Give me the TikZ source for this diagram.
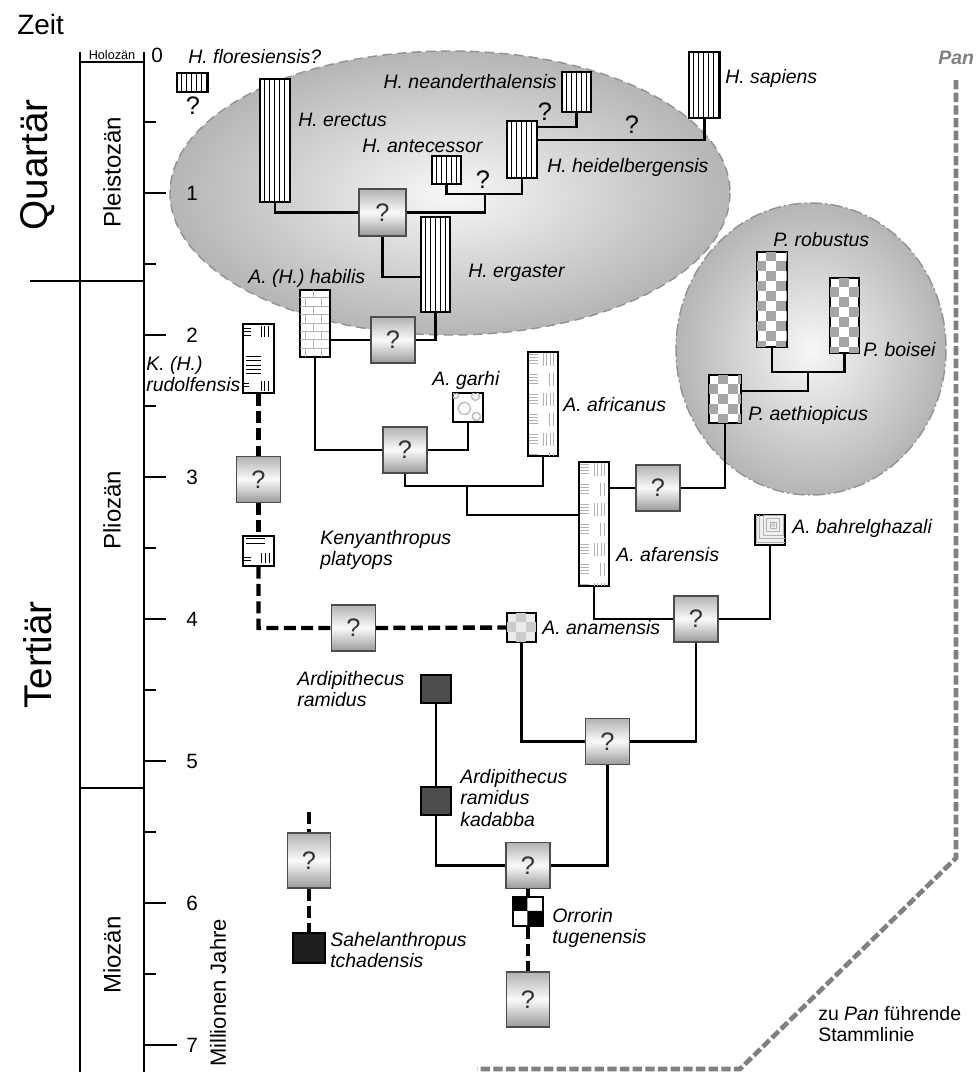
\documentclass[tikz,border=0pt]{standalone}
\usepackage{fontspec}
\setmainfont{Liberation Sans}
\newcommand\labsize{\fontsize{14.6}{16.1}\selectfont}
\newcommand\qsize{\fontsize{19}{20}\selectfont}

% fill a species box with a pattern, drawn in pixel units from its top left corner
\newcommand\boxpattern[2]{%
  \begin{scope}
    \clip (#1.north west) rectangle (#1.south east);
    \begin{scope}[shift={(#1.north west)}] #2 \end{scope}
  \end{scope}
  \draw[line width=0.9pt] (#1.north west) rectangle (#1.south east);}
\newcommand\vstripes[1]{\boxpattern{#1}{%
  \foreach \i in {5,10,...,35} \draw[line width=0.5pt] (\i,-2) -- (\i,130);}}
\newcommand\checker[2]{\boxpattern{#1}{%
  \foreach \i in {0,...,3} \foreach \j in {0,...,9} {
    \pgfmathtruncatemacro\cel{mod(\i+\j,2)}
    \ifnum\cel=1 \fill[#2] (\i*10,\j*10) rectangle ++(10,10); \fi}}}
\newcommand\bricks[1]{\boxpattern{#1}{%
  \begin{scope}[gray!60,line width=0.7pt]
    \foreach \j in {1,...,7} \draw (0,\j*8.4) -- (30,\j*8.4);
    \foreach \j in {0,2,4,6} \draw (14,\j*8.4) -- (14,\j*8.4+8.4);
    \foreach \j in {1,3,5,7} {\draw (6,\j*8.4) -- (6,\j*8.4+8.4);
                              \draw (22,\j*8.4) -- (22,\j*8.4+8.4);}
  \end{scope}}}
\newcommand\dashmarks[1]{\boxpattern{#1}{%
  \begin{scope}[gray!60,line width=0.45pt]
    \foreach \g in {0,...,6} {
      \foreach \k in {0,...,3} \draw (1.5,\g*20+3+\k*3) -- (11,\g*20+3+\k*3);
      \ifodd\g\relax
        \foreach \k in {0,1} \draw (22+\k*3.5,\g*20+2) -- (22+\k*3.5,\g*20+15);
      \else
        \foreach \k in {0,...,3} \draw (15.5+\k*3.5,\g*20+2) -- (15.5+\k*3.5,\g*20+15);
      \fi}
  \end{scope}}}
\newcommand\rudomarks[1]{\boxpattern{#1}{%
  \begin{scope}[line width=0.8pt]
    \draw (0.7,5) -- (9,5) (0.7,8.3) -- (9,8.3) (0.7,11.7) -- (9,11.7);
    \draw (19,3) -- (19,14) (22.5,3) -- (22.5,14) (26,3) -- (26,14);
    \foreach \k in {33,37.5,42,46,50} \draw (4,\k) -- (19,\k);
    \draw (0.7,60) -- (7,60) (0.7,63.5) -- (7,63.5);
    \draw (19,58) -- (19,68) (22.5,58) -- (22.5,68) (26,58) -- (26,68);
  \end{scope}}}
\newcommand\platymarks[1]{\boxpattern{#1}{%
  \begin{scope}[line width=0.8pt]
    \draw (4,3.5) -- (23,3.5) (4,8) -- (23,8);
    \draw (1,22) -- (9,22) (1,25.5) -- (9,25.5);
    \draw (19,18) -- (19,28) (23,18) -- (23,28) (27,18) -- (27,28);
  \end{scope}}}
\newcommand\rings[1]{\boxpattern{#1}{%
  \draw[gray!50,line width=1.1pt] (12,16) circle [radius=6] (23,4) circle [radius=4]
        (24,24) circle [radius=4] (3,3) circle [radius=3];}}
\newcommand\nested[1]{\boxpattern{#1}{%
  \fill[gray!35] (17,9) rectangle (21,13);
  \foreach \r in {3,6.5,10,13.5,17} \draw[gray!60,line width=0.8pt] (19-\r,11-\r) rectangle (19+\r,11+\r);}}
\newcommand\orro[1]{\boxpattern{#1}{%
  \fill (0,0) rectangle (15,14.5) (15,14.5) rectangle (30,29);}}

\begin{document}
\begin{tikzpicture}[x=0.75pt,y=-0.75pt,
      every node/.style={inner sep=0pt},
      wh/.style 2 args={minimum width=#1*0.75pt,minimum height=#2*0.75pt},
      sp/.style={draw,line width=0.9pt,fill=white},
      qbox/.style={draw=black!70,line width=0.9pt,top color=gray!60,
                   bottom color=gray!80,middle color=gray!4,
                   font=\qsize,text=black!80,wh={44}{46}},
      qmark/.style={font=\qsize},
      lab/.style={font=\labsize\itshape,anchor=west,align=left},
      tree/.style={line width=1.7pt},
      kline/.style={line width=3.3pt,dash pattern=on 9pt off 4pt},
      axis/.style={line width=1.3pt},
      group/.style={draw=gray!85,line width=1.1pt,inner color=gray!6,outer color=gray!58},
    ]
  \fill[white] (0,0) rectangle (977,1072);
  \useasboundingbox (0,0) rectangle (977,1072);

  % groups
  \path[group,dash pattern=on 7pt off 4pt] (450,193) ellipse [x radius=280,y radius=142];
  \path[group,dash pattern=on 9pt off 2.5pt on 1.5pt off 2.5pt] (811,349) ellipse [x radius=135,y radius=146];

  % line to Pan
  \coordinate (p1) at (956,80);
  \coordinate (p2) at (956,858);
  \coordinate (p3) at (740,1069);
  \coordinate (p4) at (477,1069);
  \draw[gray,line width=3.5pt,dash pattern=on 7pt off 2.5pt] (p1) -- (p2) -- (p3) -- (p4);
  \node[lab,text=gray,font=\labsize\bfseries\itshape] (pan) at (938,58) {Pan};
  \node[lab,font=\labsize\upshape] (t-pan) at (818,1024) {zu \textit{Pan} führende\\Stammlinie};

  % time scale
  \draw[axis] (80,52) -- (80,1072) (144,52) -- (144,1072) (80,62) -- (144,62)
              (30,281) -- (144,281) (80,788) -- (144,788);
  \foreach \t in {1,...,6} {
    \draw[axis] (144,51+142*\t) -- (166,51+142*\t);
    \node[font=\fontsize{15.5}{17}\selectfont] (n\t) at (192,51+142*\t) {\t};
  }
  \foreach \t in {0.5,1.5,...,6.5} \draw[axis] (144,51+142*\t) -- (156,51+142*\t);
  \draw[axis] (144,1045) -- (177,1045);
  \node[font=\fontsize{15.5}{17}\selectfont] (n7) at (192,1045) {7};
  \node[font=\fontsize{15.5}{17}\selectfont] (n0) at (157,55) {0};
  \node[font=\fontsize{21}{23}\selectfont,anchor=west] (zeit) at (17,24) {Zeit};
  \node[font=\fontsize{9.5}{10}\selectfont] (holo) at (112,55) {Holozän};
  \node[font=\fontsize{29}{30}\selectfont,rotate=90] (quart) at (38,165) {Quartär};
  \node[font=\fontsize{29}{30}\selectfont,rotate=90] (tert) at (38,655) {Tertiär};
  \node[font=\fontsize{18}{20}\selectfont,rotate=90] (pleist) at (112,172) {Pleistozän};
  \node[font=\fontsize{18}{20}\selectfont,rotate=90] (plio) at (112,510) {Pliozän};
  \node[font=\fontsize{18}{20}\selectfont,rotate=90] (mio) at (112,955) {Miozän};
  \node[font=\fontsize{16.5}{18}\selectfont,rotate=90] (mya) at (218,993) {Millionen Jahre};

  % species
  \node[sp,wh={31}{19}] (flores) at (192.5,82.5) {};
  \node[sp,wh={30}{123}] (erectus) at (275,140.5) {};
  \node[sp,wh={29}{28}] (antecessor) at (446.5,170) {};
  \node[sp,wh={30}{57}] (heidel) at (522,149.5) {};
  \node[sp,wh={29}{40}] (neander) at (576.5,92) {};
  \node[sp,wh={31}{66}] (sapiens) at (704.5,85) {};
  \node[sp,wh={29}{95}] (ergaster) at (435.5,264.5) {};
  \node[sp,wh={30}{67}] (habilis) at (315,323.5) {};
  \node[sp,wh={31}{69}] (rudolf) at (258.5,358.5) {};
  \node[sp,wh={31}{30}] (platyops) at (258.5,551) {};
  \node[sp,wh={30}{29}] (garhi) at (468,407.5) {};
  \node[sp,wh={30}{104}] (africanus) at (543,404) {};
  \node[sp,wh={30}{124}] (afarensis) at (594,524) {};
  \node[sp,wh={32}{48}] (aethiop) at (725,399) {};
  \node[sp,wh={30}{95}] (robustus) at (772,299.5) {};
  \node[sp,wh={29}{75}] (boisei) at (844.5,315.5) {};
  \node[sp,fill=gray!12,wh={30}{30}] (bahrel) at (770,530) {};
  \node[sp,fill=gray!15,wh={29}{29}] (anamensis) at (521.5,627.5) {};
  \node[sp,fill=black!70,wh={30}{28}] (ramidus) at (436,689) {};
  \node[sp,fill=black!70,wh={30}{28}] (kadabba) at (436,801) {};
  \node[sp,wh={30}{29}] (orrorin) at (528,911.5) {};
  \node[sp,fill=black!88,wh={32}{30}] (sahel) at (309,948) {};
  \foreach \s in {flores,erectus,antecessor,heidel,neander,sapiens,ergaster} \vstripes{\s};
  \foreach \s in {aethiop,robustus,boisei} \checker{\s}{gray!70};
  \checker{anamensis}{gray!40};
  \bricks{habilis}
  \dashmarks{africanus}
  \dashmarks{afarensis}
  \rudomarks{rudolf}
  \platymarks{platyops}
  \rings{garhi}
  \nested{bahrel}
  \orro{orrorin}

  % unknown ancestors
  \node[qbox,wh={47}{47}] (q1) at (382.5,212.5) {?};
  \node[qbox] (q2) at (393,340) {?};
  \node[qbox] (q3) at (405,450) {?};
  \node[qbox] (q4) at (658,488) {?};
  \node[qbox] (q5) at (696,619) {?};
  \node[qbox] (q6) at (607.5,741.5) {?};
  \node[qbox] (q7) at (528,865.5) {?};
  \node[qbox,wh={43}{55}] (q8) at (528,999.5) {?};
  \node[qbox] (qk1) at (258.5,479.5) {?};
  \node[qbox] (qk2) at (353.5,628) {?};
  \node[qbox,wh={43}{55}] (qs) at (309,860.5) {?};

  % junctions
  \coordinate (j-ant) at (485,194);
  \coordinate (j-nea) at (537,127);
  \coordinate (j-sap) at (537,140);
  \coordinate (j-erg) at (421,277);
  \coordinate (j-afr) at (543,486);
  \coordinate (j-afa) at (467,486);
  \coordinate (j-afb) at (579,515);
  \coordinate (j-aet) at (741,391);
  \coordinate (j-par) at (808,372);
  \coordinate (s0) at (309,812);

  \draw[tree] (erectus.south) |- (q1.west);
  \draw[tree] (q1.east) -| (j-ant);
  \draw[tree] (antecessor.south) |- (j-ant) -| (heidel.south);
  \draw[tree] (neander.south) |- (j-nea);
  \draw[tree] (j-sap) -| (sapiens.south);
  \draw[tree] (q1.south) |- (j-erg);
  \draw[tree] (ergaster.south) |- (q2.east);
  \draw[tree] (habilis.east |- q2.west) -- (q2.west);
  \draw[tree] (habilis.south) |- (q3.west);
  \draw[tree] (q3.east) -| (garhi.south);
  \draw[tree] (q3.south) |- (j-afr) -- (africanus.south);
  \draw[tree] (j-afa) |- (j-afb);
  \draw[tree] (afarensis.east |- q4.west) -- (q4.west);
  \draw[tree] (q4.east) -| (aethiop.south);
  \draw[tree] (j-aet) -| (j-par);
  \draw[tree] (robustus.south) |- (j-par) -| (boisei.south);
  \draw[tree] (afarensis.south) |- (q5.west);
  \draw[tree] (q5.east) -| (bahrel.south);
  \draw[tree] (q5.south) |- (q6.east);
  \draw[tree] (q6.west) -| (anamensis.south);
  \draw[tree] (q6.south) |- (q7.east);
  \draw[tree] (q7.west) -| (kadabba.south);
  \draw[tree] (kadabba.north) -- (ramidus.south);
  \draw[kline] (q7.south) -- (orrorin.north) (orrorin.south) -- (q8.north);
  \draw[kline] (s0) -- (qs.north) (qs.south) -- (sahel.north);
  \draw[kline] (rudolf.south) -- (qk1.north) (qk1.south) -- (platyops.north);
  \draw[kline] (platyops.south) |- (qk2.west) (qk2.east) -- (anamensis.west);

  % labels
  \node[lab] (t-flores) at (188,57) {H. floresiensis?};
  \node[qmark] (t-fq) at (193,106) {?};
  \node[lab] (t-erectus) at (298,120) {H. erectus};
  \node[lab] (t-antec) at (362,146) {H. antecessor};
  \node[lab,anchor=east] (t-neand) at (557,82) {H. neanderthalensis};
  \node[lab] (t-heidel) at (547,167) {H. heidelbergensis};
  \node[lab] (t-sap) at (725,78) {H. sapiens};
  \node[lab] (t-erg) at (468,273) {H. ergaster};
  \node[lab] (t-hab) at (248,278) {A. (H.) habilis};
  \node[qmark] (qa) at (483,180) {?};
  \node[qmark] (qb) at (545,112) {?};
  \node[qmark] (qc) at (632,125) {?};
  \node[lab] (t-rud) at (146,374) {K. (H.)\\rudolfensis};
  \node[lab] (t-garhi) at (432,380) {A. garhi};
  \node[lab] (t-afric) at (563,405) {A. africanus};
  \node[lab] (t-afar) at (616,555) {A. afarensis};
  \node[lab] (t-aeth) at (748,415) {P. aethiopicus};
  \node[lab] (t-rob) at (773,240) {P. robustus};
  \node[lab] (t-boi) at (863,350) {P. boisei};
  \node[lab] (t-bahr) at (792,528) {A. bahrelghazali};
  \node[lab] (t-keny) at (320,550) {Kenyanthropus\\platyops};
  \node[lab] (t-anam) at (542,628) {A. anamensis};
  \node[lab] (t-ram) at (297,689) {Ardipithecus\\ramidus};
  \node[lab] (t-kad) at (460,798) {Ardipithecus\\ramidus\\kadabba};
  \node[lab] (t-orr) at (552,928) {Orrorin\\tugenensis};
  \node[lab] (t-sah) at (330,950) {Sahelanthropus\\tchadensis};
\end{tikzpicture}
\end{document}
